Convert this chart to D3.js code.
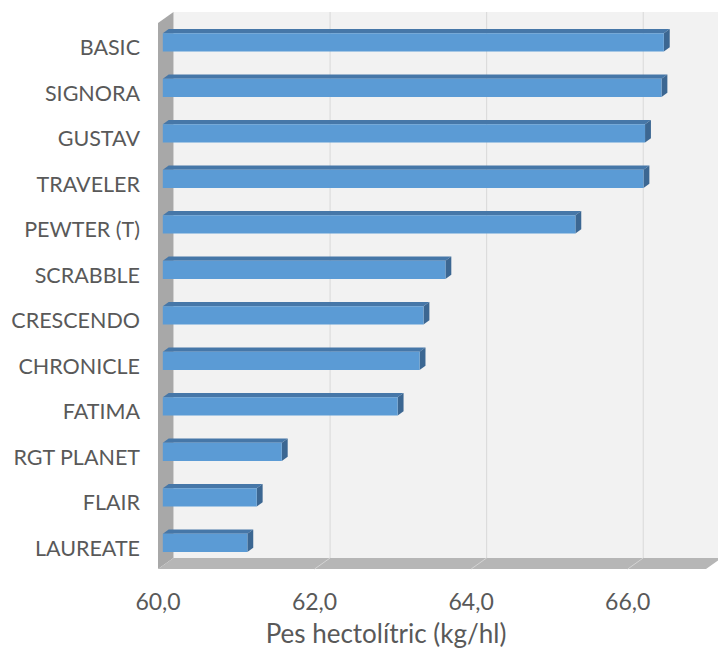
<!DOCTYPE html>
<html>
<head>
<meta charset="utf-8">
<script src="https://cdn.jsdelivr.net/npm/d3@7"></script>
<style>
  html, body { margin: 0; padding: 0; background: #ffffff; }
  svg { display: block; }
  text { font-family: Lato, "Open Sans", sans-serif; fill: #595959; }
</style>
</head>
<body>
<svg id="chart" width="718" height="651"></svg>
<script>
// Wheat varieties and their test weight (kg/hl)
const varieties = ["BASIC", "SIGNORA", "GUSTAV", "TRAVELER", "PEWTER (T)", "SCRABBLE",
                   "CRESCENDO", "CHRONICLE", "FATIMA", "RGT PLANET", "FLAIR", "LAUREATE"];
const pesHectolitric = [66.40, 66.37, 66.16, 66.14, 65.27, 63.61,
                        63.33, 63.28, 63.00, 61.52, 61.20, 61.08];
const tickValues = [60, 62, 64, 66];
const axisTitle = "Pes hectolítric (kg/hl)";

const svg = d3.select("#chart");

// Oblique 3D projection: depth shifts points right and up
const depthX = 15.5, depthY = 11;
const proj = (x, y, z) => [x + z * depthX, y - z * depthY];

const x = d3.scaleLinear().domain([60, 67]).range([158, 706]);
const y = d3.scaleBand().domain(varieties).range([23, 569])
  .paddingInner(0.6).paddingOuter(0.3);

const xMin = x.range()[0], xMax = x.range()[1];
const yTop = y.range()[0], yBot = y.range()[1];
const poly = pts => pts.map(p => p.join(",")).join(" ");

// Back wall
svg.append("polygon")
  .attr("points", poly([proj(xMin, yTop, 1), proj(xMax, yTop, 1), proj(xMax, yBot, 1), proj(xMin, yBot, 1)]))
  .attr("fill", "#f2f2f2");

// Back wall gridlines
svg.append("g").selectAll("line").data(tickValues.slice(1)).join("line")
  .attr("x1", d => proj(x(d), yTop, 1)[0]).attr("x2", d => proj(x(d), yBot, 1)[0])
  .attr("y1", proj(0, yTop, 1)[1]).attr("y2", proj(0, yBot, 1)[1])
  .attr("stroke", "#d9d9d9").attr("stroke-width", 1);

// Side wall
svg.append("polygon")
  .attr("points", poly([proj(xMin, yTop, 0), proj(xMin, yTop, 1), proj(xMin, yBot, 1), proj(xMin, yBot, 0)]))
  .attr("fill", "#a8a8a8");

// Floor
svg.append("polygon")
  .attr("points", poly([proj(xMin, yBot, 0), proj(xMax, yBot, 0), proj(xMax, yBot, 1), proj(xMin, yBot, 1)]))
  .attr("fill", "#b6b6b6");

// Floor gridlines
svg.append("g").selectAll("line").data(tickValues.slice(1)).join("line")
  .attr("x1", d => proj(x(d), yBot, 0)[0]).attr("y1", d => proj(x(d), yBot, 0)[1])
  .attr("x2", d => proj(x(d), yBot, 1)[0]).attr("y2", d => proj(x(d), yBot, 1)[1])
  .attr("stroke", "#d4d4d4").attr("stroke-width", 1);

// Bars: top face, end face, front face
const zF = 0.31, zB = 0.69;
const bars = svg.append("g").selectAll("g")
  .data(varieties.map((name, i) => ({ name, value: pesHectolitric[i] })))
  .join("g");

bars.append("polygon")
  .attr("points", d => {
    const x0 = x(60), x1 = x(d.value), t = y(d.name);
    return poly([proj(x0, t, zF), proj(x1, t, zF), proj(x1, t, zB), proj(x0, t, zB)]);
  })
  .attr("fill", "#4677a8");

bars.append("polygon")
  .attr("points", d => {
    const x1 = x(d.value), t = y(d.name), b = t + y.bandwidth();
    return poly([proj(x1, t, zF), proj(x1, t, zB), proj(x1, b, zB), proj(x1, b, zF)]);
  })
  .attr("fill", "#3c6792");

bars.append("polygon")
  .attr("points", d => {
    const x0 = x(60), x1 = x(d.value), t = y(d.name), b = t + y.bandwidth();
    return poly([proj(x0, t, zF), proj(x1, t, zF), proj(x1, b, zF), proj(x0, b, zF)]);
  })
  .attr("fill", "#5b9bd5");

// Category labels
svg.append("g").selectAll("text").data(varieties).join("text")
  .attr("x", 140)
  .attr("y", d => y(d) + y.bandwidth() / 2 + 1.5)
  .attr("text-anchor", "end")
  .attr("dominant-baseline", "central")
  .attr("font-size", 21.5)
  .text(d => d);

// Value tick labels
svg.append("g").selectAll("text").data(tickValues).join("text")
  .attr("x", d => x(d))
  .attr("y", 610)
  .attr("text-anchor", "middle")
  .attr("font-size", 23)
  .text(d => d3.format(".1f")(d).replace(".", ","));

// Axis title
svg.append("text")
  .attr("x", 386)
  .attr("y", 643)
  .attr("text-anchor", "middle")
  .attr("font-size", 26)
  .text(axisTitle);
</script>
</body>
</html>
